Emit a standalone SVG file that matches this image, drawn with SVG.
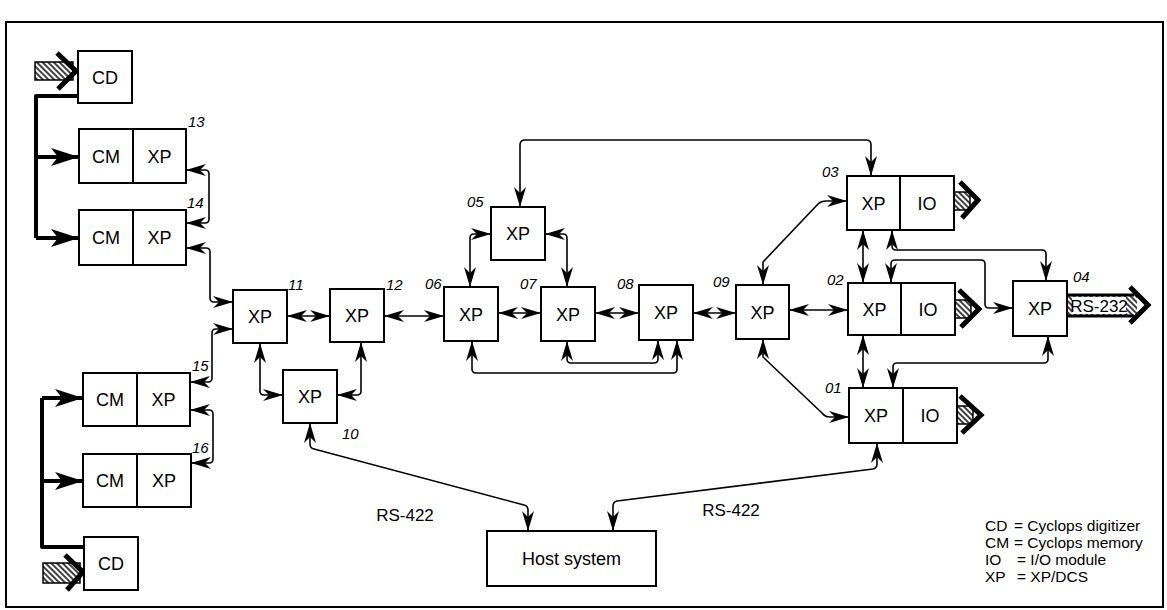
<svg xmlns="http://www.w3.org/2000/svg" width="1167" height="610" viewBox="0 0 1167 610">
<style>
.box{fill:#fff;stroke:#000;stroke-width:2}
.div{stroke:#000;stroke-width:2}
.t{font-family:"Liberation Sans",Arial,sans-serif;font-size:18px;text-anchor:middle;fill:#000}
.s{font-family:"Liberation Sans",Arial,sans-serif;font-size:17px;text-anchor:middle;fill:#000}
.n{font-family:"Liberation Sans",Arial,sans-serif;font-size:15px;font-style:italic;fill:#000}
.lg{font-family:"Liberation Sans",Arial,sans-serif;font-size:15.5px;fill:#000}
.c{fill:none;stroke:#000;stroke-width:1.6;stroke-linejoin:round;marker-start:url(#ah);marker-end:url(#ah)}
.bus{fill:none;stroke:#000;stroke-width:4;stroke-linejoin:round}
.busA{fill:none;stroke:#000;stroke-width:4;marker-end:url(#bh)}
.hat{fill:url(#hatch);stroke:#000;stroke-width:1.5}
.chev{fill:none;stroke:#000;stroke-width:5;stroke-linejoin:miter}
</style>
<defs>
<marker id="ah" viewBox="0 0 20 12" refX="20" refY="6" markerWidth="20" markerHeight="12" markerUnits="userSpaceOnUse" orient="auto-start-reverse">
<path d="M20,6 L0,0 L6,6 L0,12 Z" fill="#000"/>
</marker>
<marker id="bh" viewBox="0 0 28 18" refX="28" refY="9" markerWidth="28" markerHeight="18" markerUnits="userSpaceOnUse" orient="auto">
<path d="M28,9 L0,0 L7,9 L0,18 Z" fill="#000"/>
</marker>
<pattern id="hatch" width="4" height="4" patternUnits="userSpaceOnUse" patternTransform="rotate(-45)">
<rect width="4" height="4" fill="#fff"/>
<line x1="2" y1="0" x2="2" y2="4" stroke="#000" stroke-width="1.5"/>
</pattern>
</defs>
<rect width="1167" height="610" fill="#fff"/>
<rect x="6" y="22" width="1157" height="585" fill="none" stroke="#000" stroke-width="2"/>

<g id="connectors">
<path class="bus" d="M78,96 H36 V238"/>
<path class="busA" d="M36,157 H79"/>
<path class="busA" d="M36,238 H79"/>
<path class="bus" d="M84,547 H42 V398"/>
<path class="busA" d="M42,398 H83"/>
<path class="busA" d="M42,481 H83"/>
<path class="c" d="M186,170 H205 Q209,170 209,174 V219 Q209,223 205,223 H186"/>
<path class="c" d="M186,248 H206 Q210,248 210,252 V298 Q210,302 214,302 H233"/>
<path class="c" d="M190,382 H208 Q212,382 212,378 V333 Q212,329 216,329 H233"/>
<path class="c" d="M190,410 H209 Q213,410 213,414 V459 Q213,463 209,463 H191"/>
<path class="c" d="M287,316 H330"/>
<path class="c" d="M384,316 H444"/>
<path class="c" d="M260,343 V391 Q260,395 264,395 H283"/>
<path class="c" d="M361,342 V391 Q361,395 357,395 H337"/>
<path class="c" d="M310,423 V444 Q310,448 314,449 L524,505 Q528,506 528,510 V531"/>
<path class="c" d="M877,443 V464 Q877,468 873,469 L617,501 Q613,502 613,506 V531"/>
<path class="c" d="M498,313 H541"/>
<path class="c" d="M595,313 H639"/>
<path class="c" d="M693,313 H736"/>
<path class="c" d="M789,310 H848"/>
<path class="c" d="M491,234 H474 Q470,234 470,238 V287"/>
<path class="c" d="M545,234 H563 Q567,234 567,238 V287"/>
<path class="c" d="M520,207 V145 Q520,140 525,140 H866 Q871,140 871,145 V176"/>
<path class="c" d="M472,341 V369 Q472,373 476,373 H673 Q677,373 677,369 V340"/>
<path class="c" d="M567,341 V359 Q567,363 571,363 H654 Q658,363 658,359 V340"/>
<path class="c" d="M763,285 V262 L818,204 Q821,201 826,201 H847"/>
<path class="c" d="M763,339 V357 L822,413 Q825,417 830,417 H849"/>
<path class="c" d="M863,230 V283"/>
<path class="c" d="M892,230 V246 Q892,250 896,250 H1042 Q1046,250 1046,254 V281"/>
<path class="c" d="M891,283 V264 Q891,260 895,260 H981 Q985,260 985,264 V304 Q985,308 989,308 H1013"/>
<path class="c" d="M863,335 V388"/>
<path class="c" d="M893,388 V367 Q893,363 897,363 H1044 Q1048,363 1048,359 V336"/>
</g>

<g id="cd1">
<rect class="hat" x="35" y="62" width="38" height="18"/>
<polyline class="chev" points="57,53 76,71 58,89"/>
<rect class="box" x="78" y="51" width="54" height="52"/>
<text class="t" x="105" y="83.5">CD</text>
</g>
<g id="cmxp13">
<rect class="box" x="79" y="129" width="107" height="54"/>
<line class="div" x1="133" y1="129" x2="133" y2="183"/>
<text class="t" x="106" y="162.5">CM</text>
<text class="t" x="159.5" y="162.5">XP</text>
<text class="n" x="188" y="127">13</text>
</g>
<g id="cmxp14">
<rect class="box" x="79" y="210" width="107" height="55"/>
<line class="div" x1="133" y1="210" x2="133" y2="265"/>
<text class="t" x="106" y="244">CM</text>
<text class="t" x="159.5" y="244">XP</text>
<text class="n" x="187" y="208">14</text>
</g>
<g id="cmxp15">
<rect class="box" x="83" y="373" width="107" height="53"/>
<line class="div" x1="137" y1="373" x2="137" y2="426"/>
<text class="t" x="110" y="406">CM</text>
<text class="t" x="163.5" y="406">XP</text>
<text class="n" x="192" y="371">15</text>
</g>
<g id="cmxp16">
<rect class="box" x="83" y="454" width="108" height="53"/>
<line class="div" x1="137" y1="454" x2="137" y2="507"/>
<text class="t" x="110" y="487">CM</text>
<text class="t" x="164" y="487">XP</text>
<text class="n" x="192" y="453">16</text>
</g>
<g id="cd2">
<rect class="hat" x="43" y="563" width="37" height="20"/>
<polyline class="chev" points="65,555 83,572 67,590"/>
<rect class="box" x="84" y="537" width="54" height="53"/>
<text class="t" x="111" y="570">CD</text>
</g>
<g id="xp11">
<rect class="box" x="233" y="290" width="54" height="53"/>
<text class="t" x="260" y="323">XP</text>
<text class="n" x="288" y="290">11</text>
</g>
<g id="xp12">
<rect class="box" x="330" y="289" width="54" height="53"/>
<text class="t" x="357" y="322">XP</text>
<text class="n" x="386" y="290">12</text>
</g>
<g id="xp10">
<rect class="box" x="283" y="370" width="54" height="53"/>
<text class="t" x="310" y="403">XP</text>
<text class="n" x="342" y="439">10</text>
</g>
<g id="xp06">
<rect class="box" x="444" y="287" width="54" height="54"/>
<text class="t" x="471" y="320.5">XP</text>
<text class="n" x="425" y="289">06</text>
</g>
<g id="xp05">
<rect class="box" x="491" y="207" width="54" height="53"/>
<text class="t" x="518" y="240">XP</text>
<text class="n" x="467" y="207">05</text>
</g>
<g id="xp07">
<rect class="box" x="541" y="287" width="54" height="54"/>
<text class="t" x="568" y="320.5">XP</text>
<text class="n" x="520" y="289">07</text>
</g>
<g id="xp08">
<rect class="box" x="639" y="285" width="54" height="55"/>
<text class="t" x="666" y="319">XP</text>
<text class="n" x="617" y="289">08</text>
</g>
<g id="xp09">
<rect class="box" x="736" y="285" width="53" height="54"/>
<text class="t" x="762.5" y="318.5">XP</text>
<text class="n" x="713" y="287">09</text>
</g>
<g id="xpio03">
<rect class="hat" x="954" y="192" width="16" height="18"/>
<polyline class="chev" points="960,182 978,200 962,218"/>
<rect class="box" x="847" y="176" width="107" height="54"/>
<line class="div" x1="900" y1="176" x2="900" y2="230"/>
<text class="t" x="873.5" y="209.5">XP</text>
<text class="t" x="927" y="209.5">IO</text>
<text class="n" x="822" y="177">03</text>
</g>
<g id="xpio02">
<rect class="hat" x="955" y="300" width="16" height="18"/>
<polyline class="chev" points="959,290 979,309 961,327"/>
<rect class="box" x="848" y="283" width="107" height="52"/>
<line class="div" x1="901" y1="283" x2="901" y2="335"/>
<text class="t" x="874.5" y="315.5">XP</text>
<text class="t" x="928" y="315.5">IO</text>
<text class="n" x="827" y="285">02</text>
</g>
<g id="xpio01">
<rect class="hat" x="957" y="406" width="16" height="18"/>
<polyline class="chev" points="960,396 981,415 962,433"/>
<rect class="box" x="849" y="388" width="108" height="55"/>
<line class="div" x1="903" y1="388" x2="903" y2="443"/>
<text class="t" x="876" y="422">XP</text>
<text class="t" x="930" y="422">IO</text>
<text class="n" x="825" y="393">01</text>
</g>
<g id="xp04">
<rect x="1067" y="295" width="70" height="21" fill="url(#hatch)"/>
<line x1="1067" y1="295" x2="1134" y2="295" stroke="#000" stroke-width="3"/>
<line x1="1067" y1="316" x2="1134" y2="316" stroke="#000" stroke-width="3"/>
<rect x="1072" y="297" width="54" height="17" fill="#fff"/>
<polyline class="chev" points="1130,287 1148,305 1130,323"/>
<text class="s" x="1099" y="312">RS-232</text>
<rect class="box" x="1013" y="281" width="54" height="55"/>
<text class="t" x="1040" y="315">XP</text>
<text class="n" x="1073" y="282">04</text>
</g>
<g id="host">
<rect class="box" x="487" y="531" width="169" height="55"/>
<text class="t" x="571.5" y="565">Host system</text>
</g>
<g id="labels">
<text class="s" x="405" y="521">RS-422</text>
<text class="s" x="731" y="516">RS-422</text>
</g>
<g id="legend">
<text class="lg" x="985" y="531">CD</text><text class="lg" x="1014" y="531">= Cyclops digitizer</text>
<text class="lg" x="985" y="548">CM</text><text class="lg" x="1014" y="548">= Cyclops memory</text>
<text class="lg" x="985" y="565">IO</text><text class="lg" x="1017" y="565">= I/O module</text>
<text class="lg" x="985" y="582">XP</text><text class="lg" x="1017" y="582">= XP/DCS</text>
</g>
</svg>
